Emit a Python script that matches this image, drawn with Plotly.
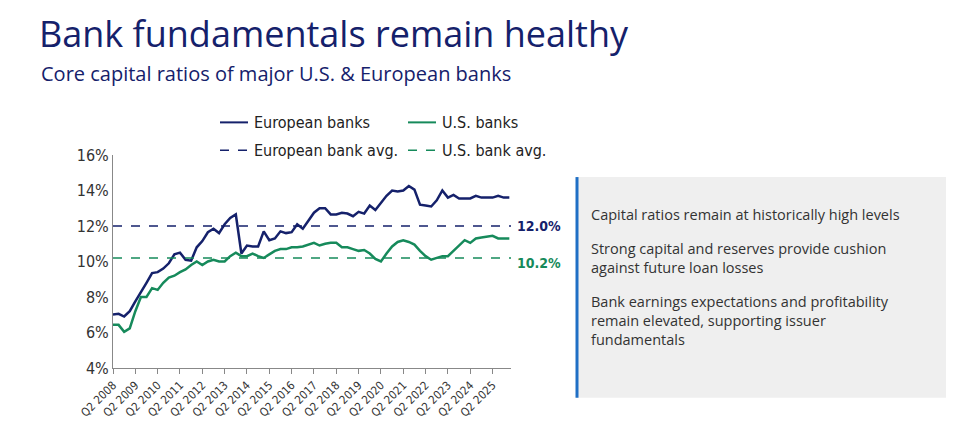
import plotly.graph_objects as go

# quarterly data Q2 2008 .. Q1 2026
quarters = [f"Q{((1 + i) % 4) + 1} {2008 + (1 + i) // 4}" for i in range(72)]
euro = [7.02, 7.05, 6.9, 7.2, 7.75, 8.25, 8.8, 9.35, 9.4, 9.6, 9.9, 10.4, 10.5, 10.1, 10.05, 10.8,
        11.15, 11.65, 11.85, 11.6, 12.1, 12.45, 12.65, 10.45, 10.9, 10.85, 10.85, 11.7, 11.2, 11.3,
        11.7, 11.6, 11.65, 12.1, 11.85, 12.3, 12.75, 13.0, 13.0, 12.65, 12.65, 12.75, 12.7, 12.55,
        12.8, 12.7, 13.15, 12.9, 13.3, 13.7, 14.0, 13.95, 14.0, 14.25, 14.05, 13.2, 13.15, 13.1,
        13.45, 14.0, 13.6, 13.75, 13.55, 13.55, 13.55, 13.7, 13.6, 13.6, 13.6, 13.7, 13.6, 13.6]
us = [6.43, 6.43, 6.04, 6.23, 7.2, 8.0, 8.0, 8.5, 8.4, 8.8, 9.1, 9.2, 9.4, 9.55, 9.8, 10.0,
      9.8, 10.0, 10.1, 10.0, 10.0, 10.3, 10.5, 10.3, 10.3, 10.45, 10.3, 10.2, 10.4, 10.6,
      10.7, 10.7, 10.8, 10.8, 10.85, 10.95, 11.05, 10.9, 11.0, 11.05, 11.05, 10.8, 10.8, 10.7,
      10.6, 10.65, 10.45, 10.15, 10.0, 10.45, 10.85, 11.1, 11.2, 11.1, 10.95, 10.6, 10.3, 10.1,
      10.2, 10.3, 10.3, 10.6, 10.85, 11.2, 11.05, 11.3, 11.35, 11.4, 11.45, 11.3, 11.3, 11.3]
euro_avg = 12.0
us_avg = 10.2
tick_labels = [f"Q2 {y}" for y in range(2008, 2026)]
bullets = ["Capital ratios remain at historically high levels",
           "Strong capital and reserves provide cushion<br>against future loan losses",
           "Bank earnings expectations and profitability<br>remain elevated, supporting issuer<br>fundamentals"]

NAVY = "#15216b"
GREEN = "#168a5b"
NARROW = "DejaVu Sans Condensed, Liberation Sans Narrow, Arial Narrow, sans-serif"

# pixel -> paper helpers (plot area 105..503 x, 147..369 y)
def px(x):
    return (x - 105) / 398

def py(y):
    return (369 - y) / 222

def ypos(v):
    return (v - 4) / 12

xs = list(range(len(quarters)))
fig = go.Figure()
fig.add_trace(go.Scatter(x=xs, y=euro, mode="lines", line=dict(color=NAVY, width=2.5), showlegend=False))
fig.add_trace(go.Scatter(x=xs, y=us, mode="lines", line=dict(color=GREEN, width=2.5), showlegend=False))
fig.add_trace(go.Scatter(x=[0, 71.3], y=[euro_avg] * 2, mode="lines",
                         line=dict(color=NAVY, width=1.5, dash="dash"), showlegend=False))
fig.add_trace(go.Scatter(x=[0, 71.3], y=[us_avg] * 2, mode="lines",
                         line=dict(color=GREEN, width=1.5, dash="dash"), showlegend=False))

shapes = []
annotations = []

# manual legend
legend_items = [("European banks", NAVY, "solid", 212, 113), ("U.S. banks", GREEN, "solid", 400, 113),
                ("European bank avg.", NAVY, "dash", 212, 142), ("U.S. bank avg.", GREEN, "dash", 400, 142)]
for name, col, dash, lx, ly in legend_items:
    shapes.append(dict(type="line", xref="paper", yref="paper", x0=px(lx), x1=px(lx + 28),
                       y0=py(ly), y1=py(ly), line=dict(color=col, width=2 if dash == "solid" else 1.5, dash=dash)))
    annotations.append(dict(xref="paper", yref="paper", x=px(lx + 32), y=py(ly), text=name, showarrow=False,
                            xanchor="left", yanchor="middle", font=dict(family=NARROW, size=16, color="#222")))

# avg value labels
annotations.append(dict(xref="paper", x=px(507), y=euro_avg, text="<b>12.0%</b>", showarrow=False, xanchor="left",
                        font=dict(family=NARROW, size=14, color=NAVY)))
annotations.append(dict(xref="paper", x=px(507), y=us_avg - 0.3, text="<b>10.2%</b>", showarrow=False,
                        xanchor="left", font=dict(family=NARROW, size=14, color=GREEN)))

# titles
annotations.append(dict(xref="paper", yref="paper", x=px(29), y=py(20), text="Bank fundamentals remain healthy",
                        showarrow=False, xanchor="left", yanchor="middle",
                        font=dict(family="Open Sans", size=36, color=NAVY)))
annotations.append(dict(xref="paper", yref="paper", x=px(31), y=py(62),
                        text="Core capital ratios of major U.S. & European banks", showarrow=False,
                        xanchor="left", yanchor="middle", font=dict(family="Open Sans", size=20, color=NAVY)))

# side box
shapes.append(dict(type="rect", xref="paper", yref="paper", x0=px(568), x1=px(938), y0=py(400), y1=py(170),
                   fillcolor="#efefef", line=dict(width=0), layer="below"))
shapes.append(dict(type="line", xref="paper", yref="paper", x0=px(569), x1=px(569), y0=py(400), y1=py(170),
                   line=dict(color="#1f6fc5", width=3)))
for txt, ty in zip(bullets, [207, 242, 298]):
    annotations.append(dict(xref="paper", yref="paper", x=px(581), y=py(ty - 10), text=txt, showarrow=False,
                            xanchor="left", yanchor="top", align="left",
                            font=dict(family="Open Sans", size=14.5, color="#333")))

fig.update_layout(
    width=966, height=424, margin=dict(l=105, r=463, t=147, b=55),
    paper_bgcolor="white", plot_bgcolor="white",
    shapes=shapes, annotations=annotations,
    xaxis=dict(range=[0, 71.3], tickvals=list(range(0, 72, 4)), ticktext=tick_labels, tickangle=-45,
               showgrid=False, zeroline=False, showline=True, linecolor="#888", linewidth=1,
               ticks="outside", ticklen=5, tickcolor="#888",
               tickfont=dict(family=NARROW, size=11.5, color="#333")),
    yaxis=dict(range=[4, 16], dtick=2, ticksuffix="%", showgrid=False, zeroline=False,
               showline=True, linecolor="#888", linewidth=1,
               tickfont=dict(family=NARROW, size=16, color="#333")),
)

fig.write_html("out.html")
